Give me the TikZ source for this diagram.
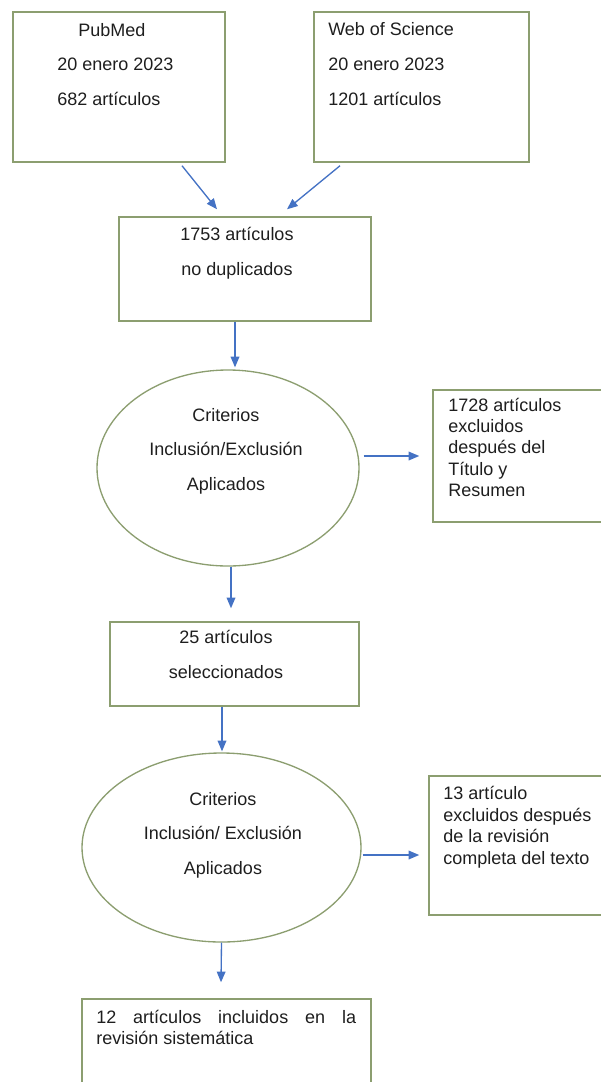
\documentclass[tikz,border=0pt]{standalone}
\usepackage{fontspec}
\setmainfont{Liberation Sans}
\usetikzlibrary{shapes.geometric, arrows.meta}
\definecolor{boxline}{RGB}{140,158,112}
\definecolor{arrowblue}{RGB}{68,114,196}
\definecolor{txtgray}{RGB}{30,30,30}
\hyphenpenalty=10000
\exhyphenpenalty=10000
\tikzset{
  box/.style = {rectangle, draw=boxline, line width=1.1pt, inner sep=0pt},
  crit/.style = {ellipse, draw=boxline, line width=1pt, inner sep=0pt},
  flow/.style = {-{Triangle[length=8pt,width=6.5pt]}, draw=arrowblue, line width=1pt},
  txt/.style = {inner sep=0pt, text=txtgray, font=\fontsize{13.5pt}{25.9pt}\selectfont},
  tight/.style = {txt, font=\fontsize{13.5pt}{16pt}\selectfont}
}

\begin{document}
\begin{tikzpicture}[x=0.75pt, y=-0.75pt]
\useasboundingbox (0,0) rectangle (600,1082);

% Sources (text nodes sit on the baseline of their last line)
\node[box, minimum width=159pt, minimum height=112.5pt] (pub) at (119,87) {};
\node[box, minimum width=161.25pt, minimum height=112.5pt] (wos) at (421.5,87) {};
\node[txt, anchor=base west, align=left] (pubtxt) at (57,105.5) {\hspace*{15.75pt}PubMed\\20 enero 2023\\682 artículos};
\node[txt, anchor=base west, align=left, font=\fontsize{13.5pt}{26.3pt}\selectfont] (wostxt) at (328,105.5) {Web of Science\\20 enero 2023\\1201 artículos};

% Screening
\node[box, minimum width=189pt, minimum height=78pt] (dup) at (245,269) {};
\node[txt, anchor=base, align=center] (duptxt) at (237,275.5) {1753 artículos\\no duplicados};

\node[crit, minimum width=196.5pt, minimum height=147pt] (crit1) at (228,468) {};
\node[txt, anchor=base, align=center] (crit1txt) at (226,490.5) {Criterios\\Inclusión/Exclusión\\Aplicados};

\node[box, minimum width=129pt, minimum height=99pt] (ex1) at (519,456) {};
\node[tight, anchor=base west, align=left] (ex1txt) at (448,496.5) {1728 artículos\\excluidos\\después del\\Título y\\Resumen};

\node[box, minimum width=186.75pt, minimum height=63pt] (sel) at (234.5,664) {};
\node[txt, anchor=base, align=center] (seltxt) at (226,678.5) {25 artículos\\seleccionados};

% Full text
\node[crit, minimum width=209.25pt, minimum height=141.75pt] (crit2) at (221.5,847.5) {};
\node[txt, anchor=base, align=center] (crit2txt) at (223,874.5) {Criterios\\Inclusión/ Exclusión\\Aplicados};

\node[box, minimum width=132pt, minimum height=104.25pt] (ex2) at (517,845.5) {};
\node[tight, anchor=base west, align=left, font=\fontsize{13.5pt}{16.2pt}\selectfont] (ex2txt) at (443,864.3) {13 artículo\\excluidos después\\de la revisión\\completa del texto};

\node[box, minimum width=216.75pt, minimum height=72pt] (inc) at (226.5,1047) {};
\node[txt, anchor=base west, text width=195pt, align=justify, font=\fontsize{13.5pt}{15.75pt}\selectfont] (inctxt) at (96,1023.5) {12 artículos incluidos en la revisión sistemática};

% Arrows
\draw[flow] ([shift={(63,3)}]pub.south) -- ([shift={(-28,-7)}]dup.north);
\draw[flow] ([shift={(-81.5,3)}]wos.south) -- ([shift={(42,-7)}]dup.north);
\draw[flow] ([shift={(-10,0)}]dup.south) -- ([shift={(7,-2)}]crit1.north);
\draw[flow] ([shift={(4,-12)}]crit1.east) -- ([shift={(-13,0)}]ex1.west);
\draw[flow] ([shift={(3,0)}]crit1.south) -- ([shift={(-3.5,-13)}]sel.north);
\draw[flow] ([shift={(-12.5,0)}]sel.south) -- ([shift={(0.5,-1)}]crit2.north);
\draw[flow] ([shift={(1,7.5)}]crit2.east) -- ([shift={(-9,9.5)}]ex2.west);
\draw[flow] (crit2.south) -- ([shift={(-5.5,-16)}]inc.north);

\end{tikzpicture}
\end{document}
